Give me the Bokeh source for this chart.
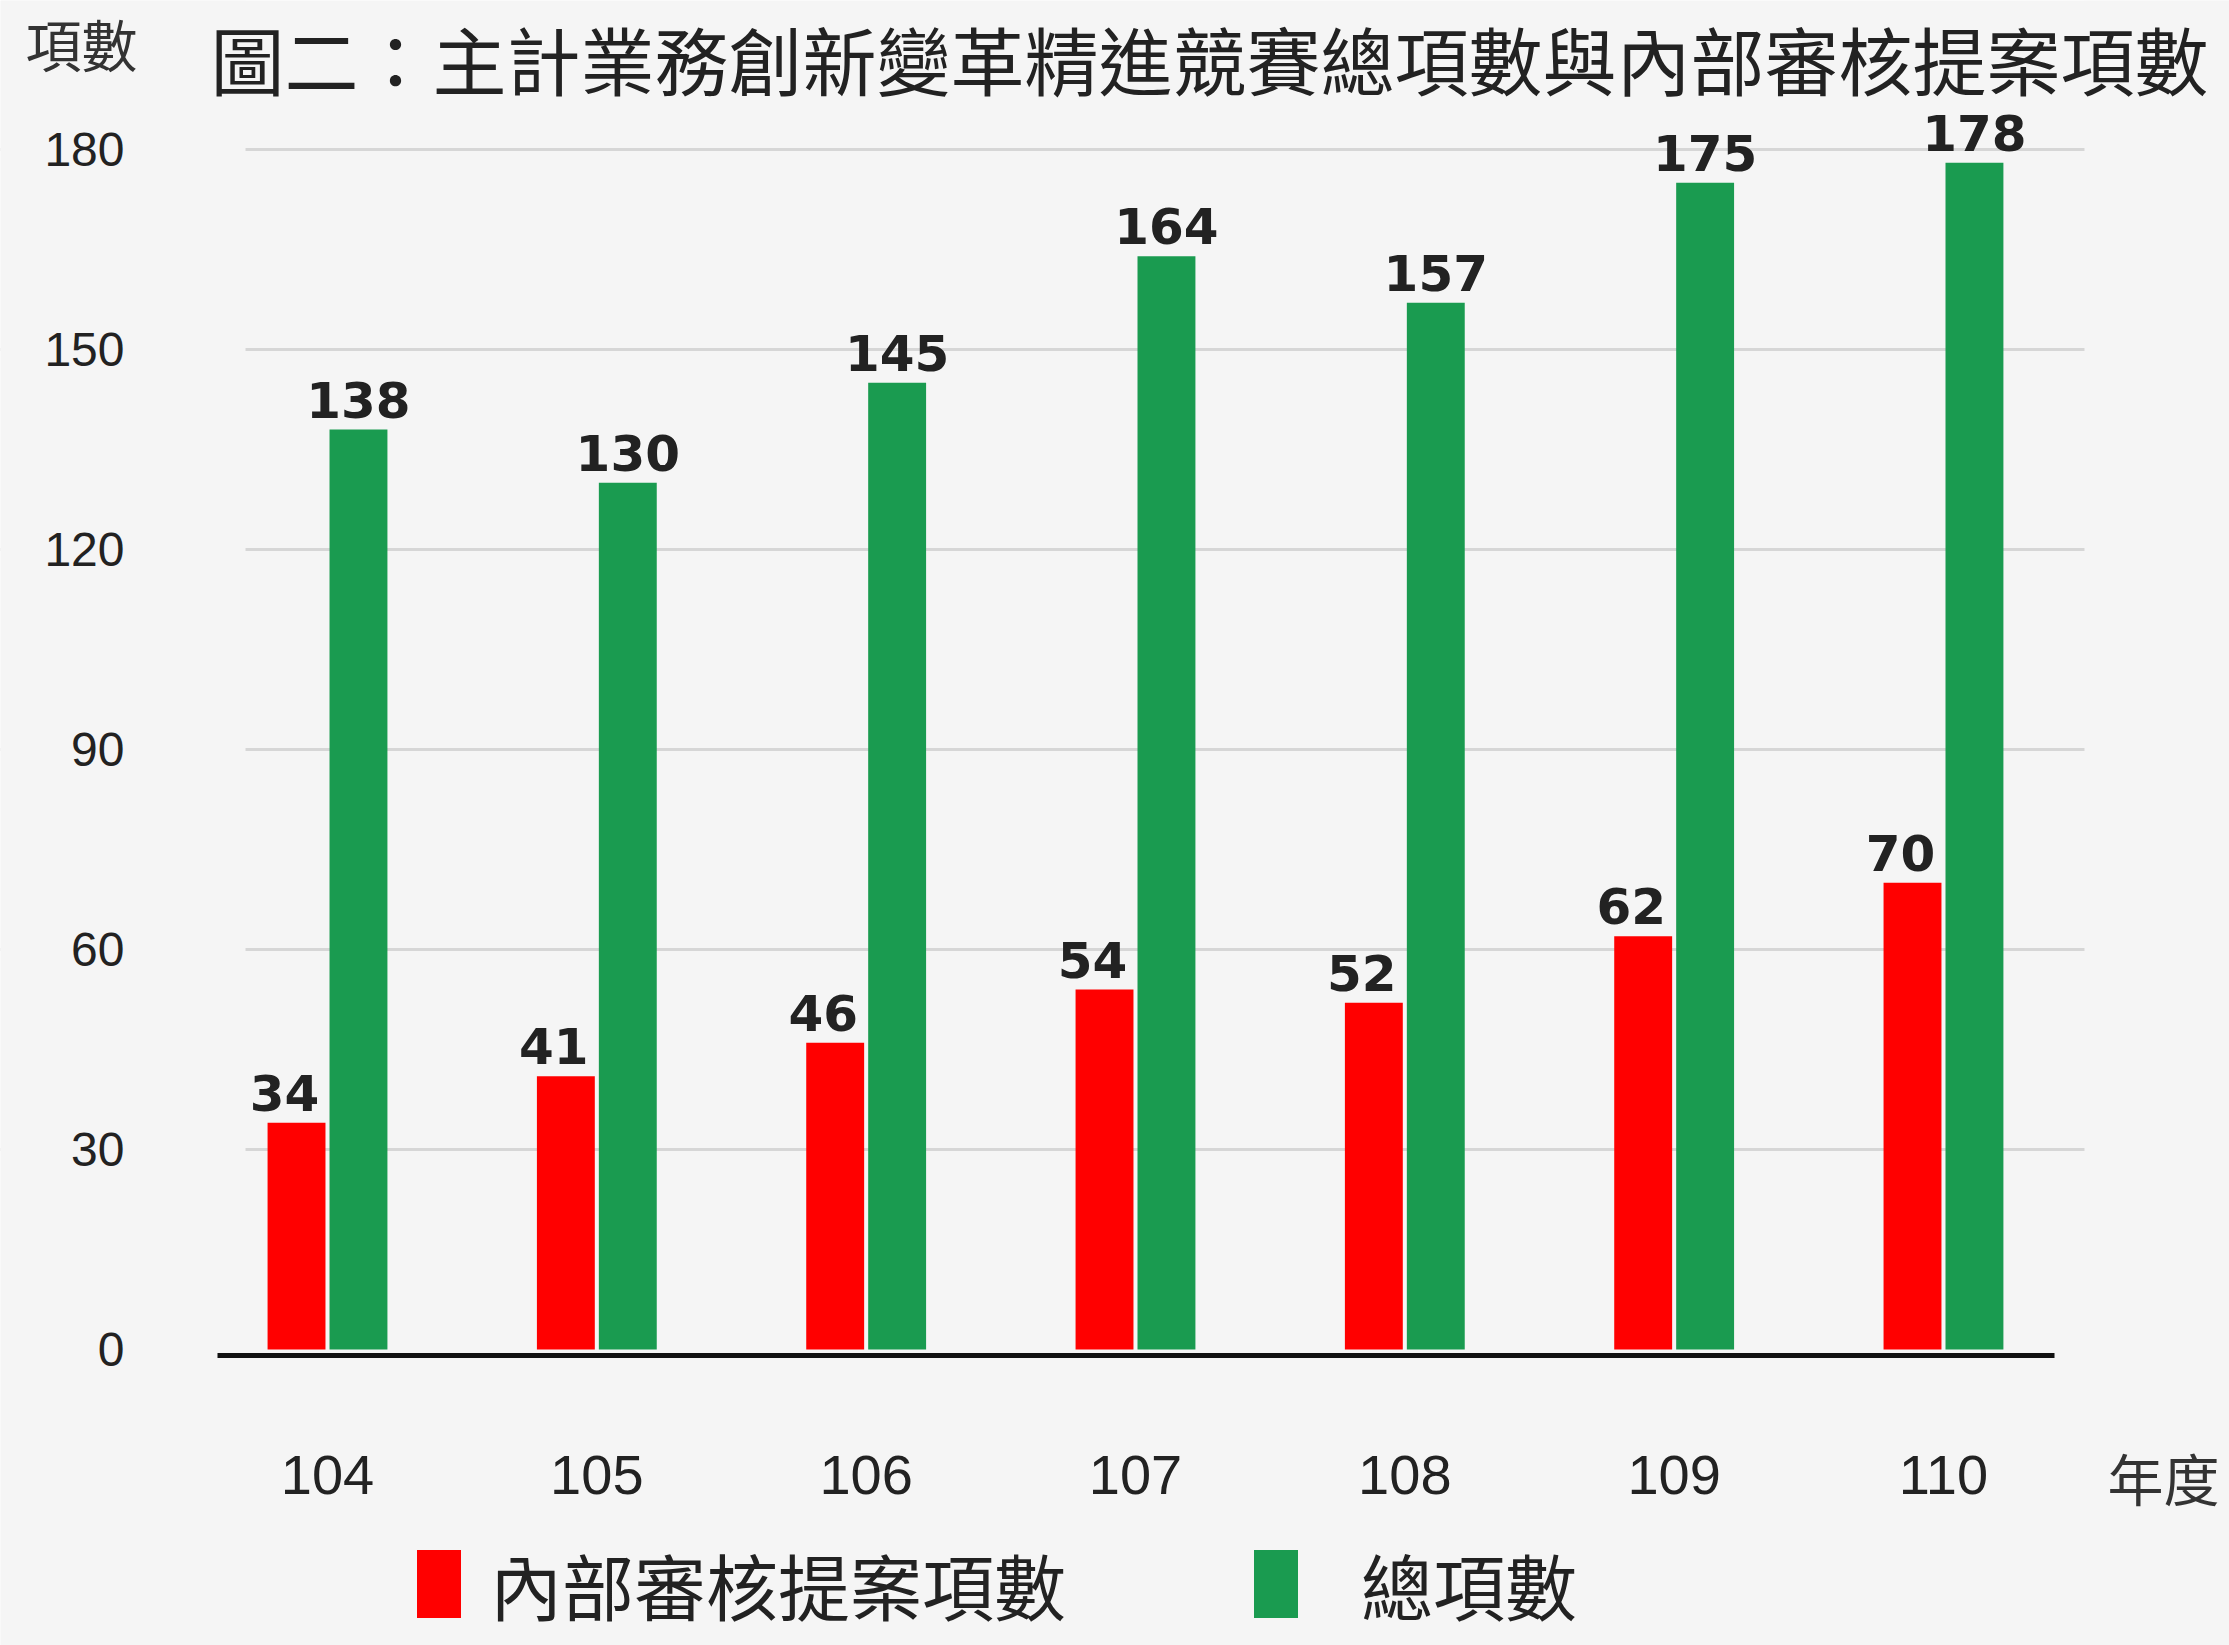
from bokeh.plotting import figure
from bokeh.models import (ColumnDataSource, Range1d, FixedTicker, LabelSet, Label,
                          Legend, LegendItem, BoxAnnotation)
from bokeh.transform import dodge
from bokeh.core.properties import value
from bokeh.embed import file_html
from bokeh.resources import INLINE

# ---- data ----
years = ["104", "105", "106", "107", "108", "109", "110"]
internal = [34, 41, 46, 54, 52, 62, 70]
total = [138, 130, 145, 164, 157, 175, 178]
y_ticks = [0, 30, 60, 90, 120, 150, 180]
title_text = "圖二：主計業務創新變革精進競賽總項數與內部審核提案項數"
y_title = "項數"
x_title = "年度"
legend_labels = ["內部審核提案項數", "總項數"]

# ---- layout (pixel -> data helpers; the frame covers the whole canvas) ----
W, H = 2229, 1645
CX0 = 327          # pixel x of first category centre
PX_PER_X = 269.33  # pixels per category step
ZERO_PX = 1349     # pixel y of value 0
PX_PER_Y = 200 / 30


def dx(px):
    return (px - CX0) / PX_PER_X


def dy(py):
    return (ZERO_PX - py) / PX_PER_Y


BG = "#f5f5f5"
RED = "#ff0000"
GREEN = "#1a9b50"
TXT = "#222222"
CJK = "Noto Sans CJK TC"

xs = list(range(len(years)))
src = ColumnDataSource(dict(
    x=xs, internal=internal, total=total,
    internal_label=[str(v) for v in internal],
    total_label=[str(v) for v in total],
))

p = figure(width=W, height=H, x_range=Range1d(dx(0), dx(W)),
           y_range=Range1d(dy(H), dy(0)),
           output_backend="svg", toolbar_location=None, min_border=0)
p.background_fill_color = BG
p.border_fill_color = BG
p.outline_line_color = None

OFF = 0.115
BW = 0.215
r_red = p.vbar(x=dodge("x", -OFF), top="internal", width=BW, source=src,
               fill_color=RED, line_color=None)
r_green = p.vbar(x=dodge("x", OFF), top="total", width=BW, source=src,
                 fill_color=GREEN, line_color=None)

lbl_kw = dict(text_align="center", text_baseline="alphabetic",
              text_font=value("DejaVu Sans"), text_font_style="bold",
              text_font_size="50px", text_color=TXT, y_offset=12)
p.add_layout(LabelSet(x=dodge("x", -OFF), y="internal", text="internal_label",
                      source=src, x_offset=-12, **lbl_kw))
p.add_layout(LabelSet(x=dodge("x", OFF), y="total", text="total_label",
                      source=src, **lbl_kw))

# axes (drawn at fixed locations inside the canvas)
p.xaxis.fixed_location = dy(1355)
p.xaxis.ticker = FixedTicker(ticks=xs)
p.xaxis.major_label_overrides = {i: y for i, y in zip(xs, years)}
p.xaxis.major_label_text_font = "Liberation Sans"
p.xaxis.major_label_text_font_size = "56px"
p.xaxis.major_label_text_color = TXT
p.xaxis.major_label_standoff = 94
p.xaxis.major_tick_line_color = None
p.xaxis.minor_tick_line_color = None
p.xaxis.axis_line_color = "#111111"
p.xaxis.axis_line_width = 5
p.xaxis.bounds = (dx(217), dx(2054))

p.yaxis.fixed_location = dx(217)
p.yaxis.ticker = FixedTicker(ticks=y_ticks)
p.yaxis.major_label_text_font = "Liberation Sans"
p.yaxis.major_label_text_font_size = "48px"
p.yaxis.major_label_text_color = TXT
p.yaxis.major_label_standoff = 87
p.yaxis.major_tick_line_color = None
p.yaxis.minor_tick_line_color = None
p.yaxis.axis_line_color = None

p.xgrid.grid_line_color = None
p.ygrid.ticker = FixedTicker(ticks=y_ticks[1:])
p.ygrid.grid_line_color = "#d6d6d6"
p.ygrid.grid_line_width = 3
p.ygrid.level = "image"

# keep the grid lines between the plot edges of the original
p.add_layout(BoxAnnotation(right=dx(245), fill_color=BG, fill_alpha=1,
                           line_color=None, level="underlay"))
p.add_layout(BoxAnnotation(left=dx(2084), fill_color=BG, fill_alpha=1,
                           line_color=None, level="underlay"))

# texts
p.add_layout(Label(x=dx(210), y=dy(3), text=title_text, text_font=CJK,
                   text_font_size="74px", text_color=TXT,
                   text_align="left", text_baseline="top"))
p.add_layout(Label(x=dx(81), y=dy(42), text=y_title, text_font=CJK,
                   text_font_size="56px", text_color="#333333",
                   text_align="center", text_baseline="middle"))
p.add_layout(Label(x=dx(2163), y=dy(1476), text=x_title, text_font=CJK,
                   text_font_size="56px", text_color="#333333",
                   text_align="center", text_baseline="middle"))

# legends
leg_common = dict(orientation="horizontal", padding=0, margin=0, spacing=0,
                  border_line_color=None, background_fill_alpha=0,
                  label_text_font=CJK, label_text_font_size="72px",
                  label_text_color=TXT, label_text_baseline="bottom",
                  glyph_width=55, glyph_height=85)
leg1 = Legend(items=[LegendItem(label=legend_labels[0], renderers=[r_red])],
              location=(411, 9), label_standoff=24, **leg_common)
leg2 = Legend(items=[LegendItem(label=legend_labels[1], renderers=[r_green])],
              location=(1248, 9), label_standoff=58, **leg_common)
p.add_layout(leg1, "center")
p.add_layout(leg2, "center")

open("out.html", "w").write(file_html(p, INLINE))
